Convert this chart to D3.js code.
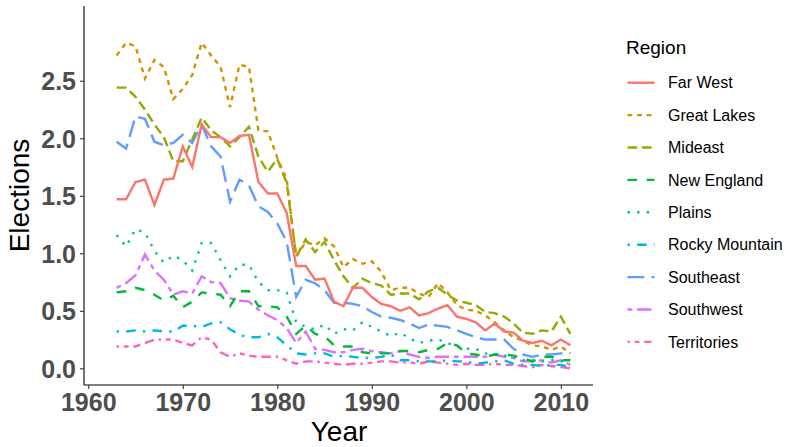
<!DOCTYPE html>
<html>
<head>
<meta charset="utf-8">
<script src="https://cdn.jsdelivr.net/npm/d3@7"></script>
<style>
  body { margin: 0; background: #fff; }
  text { font-family: "Liberation Sans", Arial, sans-serif; }
</style>
</head>
<body>
<div id="chart"></div>
<script>
var years = d3.range(1963, 2012);

var regions = ["Far West", "Great Lakes", "Mideast", "New England", "Plains",
  "Rocky Mountain", "Southeast", "Southwest", "Territories"];

var farWest = [1.47,1.47,1.62,1.64,1.42,1.64,1.65,1.93,1.75,2.12,
  2.01,2.01,1.96,2.02,2.03,1.62,1.52,1.52,1.35,0.89,
  0.89,0.77,0.78,0.58,0.54,0.70,0.70,0.62,0.56,0.54,
  0.50,0.53,0.46,0.48,0.52,0.55,0.45,0.43,0.40,0.33,
  0.39,0.32,0.31,0.24,0.22,0.24,0.20,0.25,0.20];
var greatLakes = [2.72,2.83,2.80,2.52,2.68,2.62,2.34,2.43,2.55,2.83,
  2.72,2.62,2.27,2.64,2.62,2.07,2.06,1.83,1.64,0.97,
  1.10,1.07,1.13,1.06,0.88,0.95,0.91,0.93,0.84,0.68,
  0.70,0.70,0.65,0.62,0.74,0.66,0.55,0.51,0.50,0.46,
  0.40,0.33,0.27,0.24,0.20,0.19,0.16,0.19,0.13];
var mideast = [2.44,2.44,2.36,2.25,2.12,2.01,1.80,1.80,1.99,2.18,
  2.07,2.01,1.93,2.01,2.10,1.84,1.71,1.82,1.61,0.97,
  1.12,1.01,1.10,0.94,0.80,0.70,0.78,0.74,0.72,0.64,
  0.65,0.65,0.60,0.67,0.70,0.64,0.59,0.57,0.55,0.49,
  0.48,0.45,0.39,0.31,0.30,0.33,0.32,0.45,0.30];
var newEngland = [0.66,0.67,0.70,0.68,0.64,0.59,0.63,0.53,0.58,0.66,
  0.65,0.64,0.54,0.67,0.67,0.54,0.54,0.53,0.45,0.30,
  0.37,0.30,0.28,0.20,0.19,0.19,0.14,0.13,0.13,0.13,
  0.15,0.15,0.14,0.16,0.17,0.22,0.20,0.13,0.12,0.10,
  0.12,0.12,0.11,0.09,0.06,0.10,0.10,0.07,0.07];
var plains = [1.16,1.06,1.21,1.18,1.02,0.92,0.98,0.94,0.85,1.09,
  1.09,0.94,0.80,0.90,0.90,0.75,0.68,0.68,0.66,0.40,
  0.36,0.34,0.38,0.30,0.34,0.33,0.40,0.36,0.32,0.28,
  0.31,0.26,0.22,0.24,0.25,0.22,0.19,0.17,0.17,0.13,
  0.12,0.11,0.10,0.07,0.07,0.06,0.07,0.06,0.08];
var rockyMountain = [0.32,0.32,0.33,0.32,0.33,0.32,0.32,0.37,0.37,0.36,
  0.39,0.40,0.34,0.29,0.27,0.27,0.30,0.27,0.20,0.13,
  0.12,0.13,0.13,0.10,0.11,0.10,0.09,0.09,0.10,0.12,
  0.07,0.07,0.06,0.06,0.06,0.07,0.06,0.06,0.04,0.05,
  0.06,0.07,0.04,0.03,0.03,0.02,0.03,0.03,0.01];
var southeast = [1.97,1.91,2.19,2.17,1.97,1.94,1.96,2.03,1.96,2.12,
  1.93,1.84,1.45,1.64,1.59,1.41,1.36,1.26,1.10,0.62,
  0.77,0.74,0.68,0.57,0.57,0.56,0.54,0.49,0.45,0.44,
  0.42,0.39,0.35,0.38,0.37,0.36,0.33,0.30,0.27,0.25,
  0.25,0.25,0.17,0.12,0.10,0.12,0.12,0.13,0.13];
var southwest = [0.70,0.74,0.81,0.99,0.85,0.77,0.64,0.67,0.65,0.80,
  0.75,0.74,0.61,0.59,0.58,0.51,0.46,0.42,0.35,0.22,
  0.32,0.17,0.16,0.14,0.14,0.16,0.17,0.15,0.14,0.13,
  0.15,0.12,0.10,0.09,0.10,0.10,0.10,0.10,0.10,0.10,
  0.12,0.10,0.09,0.06,0.06,0.07,0.05,0.07,0.03];
var territories = [0.19,0.19,0.19,0.22,0.25,0.25,0.25,0.22,0.20,0.27,
  0.25,0.14,0.10,0.13,0.11,0.10,0.10,0.10,0.07,0.04,
  0.06,0.06,0.05,0.04,0.03,0.04,0.04,0.05,0.06,0.06,
  0.05,0.05,0.04,0.06,0.05,0.04,0.03,0.04,0.03,0.03,
  0.04,0.03,0.03,0.02,0.01,0.03,0.02,0.01,0.00];

var xTicks = [1960, 1970, 1980, 1990, 2000, 2010];
var yTicks = [0, 0.5, 1, 1.5, 2, 2.5];

var series = [farWest, greatLakes, mideast, newEngland, plains,
  rockyMountain, southeast, southwest, territories];

// ggplot default hue palette and linetypes
var colors = ["#F8766D", "#D39200", "#93AA00", "#00BA38", "#00C19F",
  "#00B9E3", "#619CFF", "#DB72FB", "#FF61C3"];
var lw = 2.4;
var dashes = [[], [2,2], [4,2], [4,4], [1,3], [1,3,4,3], [7,3], [2,2,6,2], [1,2,2,2,3,2,4,2]];
function dashArray(i) {
  return dashes[i].length ? dashes[i].map(d => d * lw).join(",") : null;
}

var w = 790, h = 447;
var svg = d3.select("#chart").append("svg")
  .attr("width", w)
  .attr("height", h);

var x = d3.scaleLinear().domain([1959.55, 2013.4]).range([84, 593]);
var y = d3.scaleLinear().domain([-0.145, 3.15]).range([385, 6]);

var line = d3.line()
  .x((d, i) => x(years[i]))
  .y(d => y(d));

// lines, drawn in reverse so Far West sits on top
var data = series.map((s, i) => ({name: regions[i], values: s, i: i}));
svg.append("g")
  .selectAll("path")
  .data(data.slice().reverse())
  .enter()
  .append("path")
  .attr("d", d => line(d.values))
  .attr("fill", "none")
  .attr("stroke", d => colors[d.i])
  .attr("stroke-width", lw)
  .attr("stroke-dasharray", d => dashArray(d.i));

// axes
var xAxis = svg.append("g")
  .attr("transform", "translate(0,385)")
  .call(d3.axisBottom(x).tickValues(xTicks).tickFormat(d3.format("d")).tickSize(4).tickPadding(4));
var yAxis = svg.append("g")
  .attr("transform", "translate(84,0)")
  .call(d3.axisLeft(y).tickValues(yTicks).tickFormat(d3.format(".1f")).tickSize(4).tickPadding(4));

[xAxis, yAxis].forEach(function(a) {
  a.select(".domain").attr("stroke", "#000").attr("stroke-width", 1.1);
  a.selectAll(".tick line").attr("stroke", "#333").attr("stroke-width", 1.1);
  a.selectAll(".tick text")
    .attr("fill", "#4D4D4D")
    .style("font-size", "25px")
    .style("font-weight", "bold");
});
xAxis.select(".domain").attr("d", "M84,0H593");
yAxis.select(".domain").attr("d", "M0,6V385");
yAxis.selectAll(".tick text").attr("dy", "0.36em");

svg.append("text")
  .attr("x", 339)
  .attr("y", 441)
  .attr("text-anchor", "middle")
  .style("font-size", "28px")
  .text("Year");

svg.append("text")
  .attr("transform", "translate(29,195.5) rotate(-90)")
  .attr("text-anchor", "middle")
  .style("font-size", "28px")
  .text("Elections");

// legend
var legend = svg.append("g");
legend.append("text")
  .attr("x", 626)
  .attr("y", 54)
  .style("font-size", "19px")
  .text("Region");

var item = legend.selectAll("g.item")
  .data(data)
  .enter()
  .append("g")
  .attr("class", "item")
  .attr("transform", (d, i) => "translate(0," + (82.7 + i * 32.4) + ")");

item.append("line")
  .attr("x1", 627.5)
  .attr("x2", 654.5)
  .attr("stroke", d => colors[d.i])
  .attr("stroke-width", lw)
  .attr("stroke-dasharray", d => dashArray(d.i));

item.append("text")
  .attr("x", 668)
  .attr("y", 5.7)
  .style("font-size", "16px")
  .text(d => d.name);
</script>
</body>
</html>
